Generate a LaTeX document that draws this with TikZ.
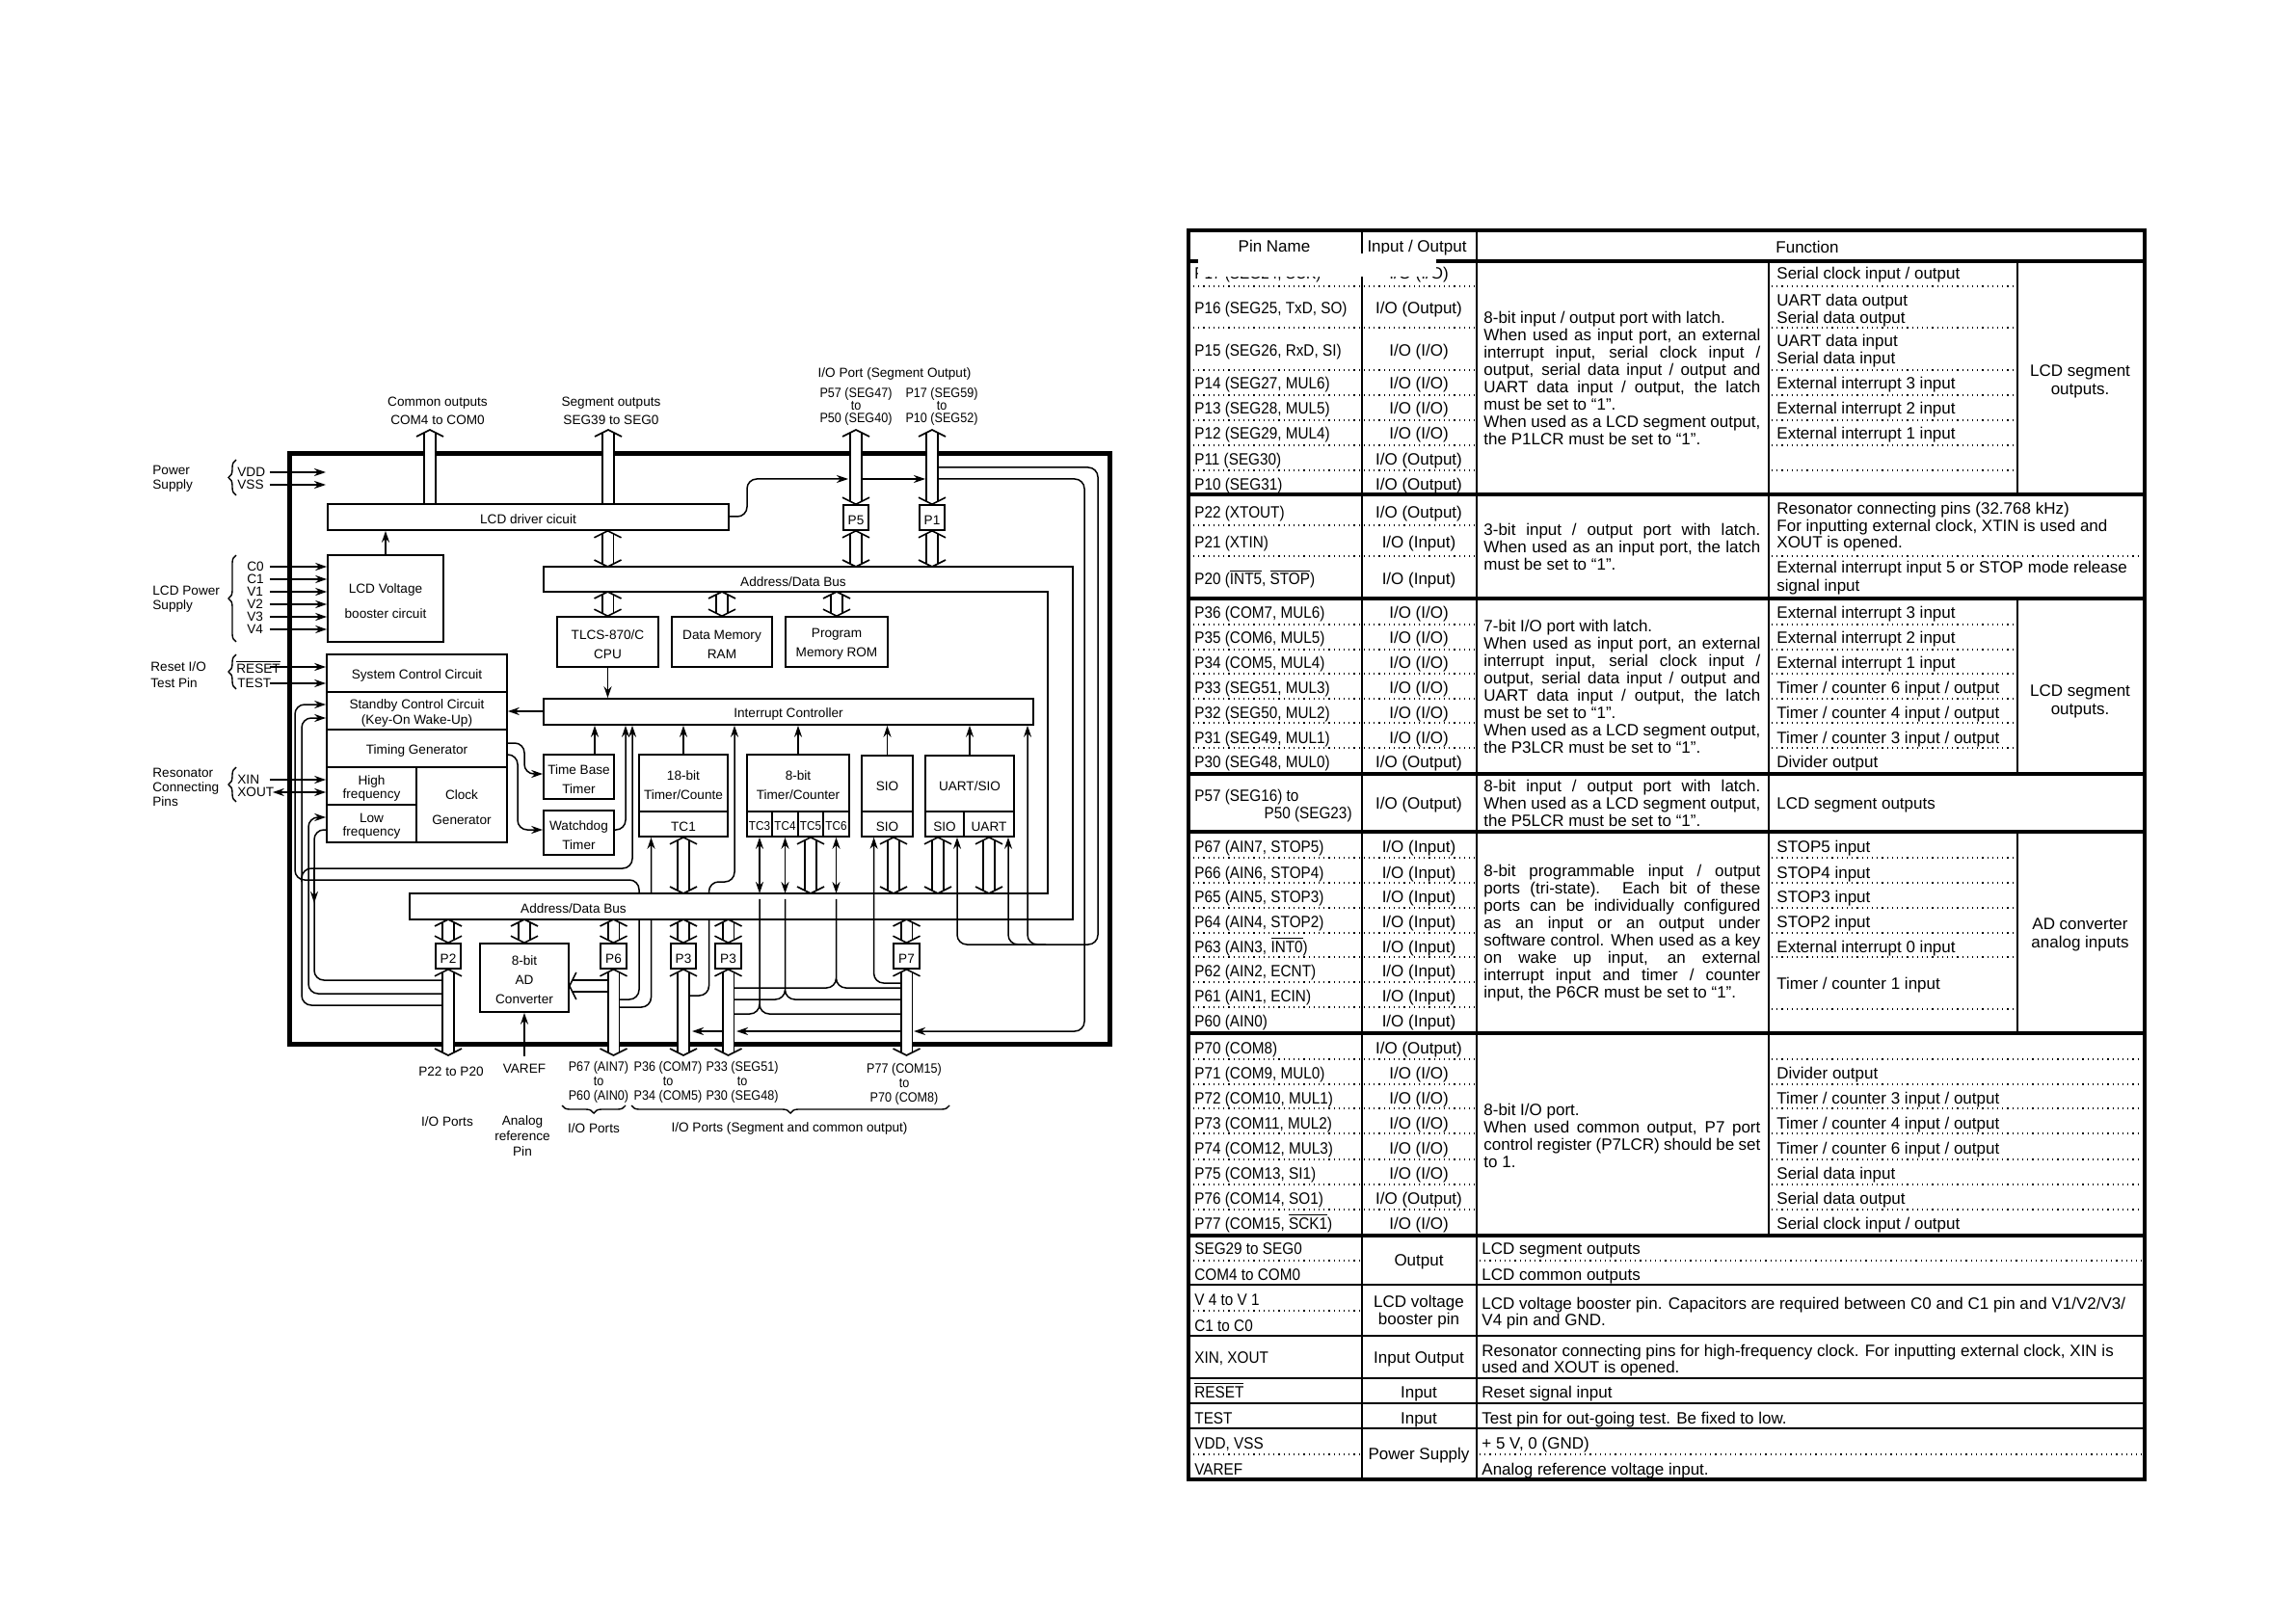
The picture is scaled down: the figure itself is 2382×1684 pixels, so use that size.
\documentclass[tikz,border=0pt]{standalone}
\usepackage{fontspec}
\setmainfont{Liberation Sans}
\newfontfamily\pinfont[FakeStretch=0.9]{Liberation Sans}
\usetikzlibrary{arrows.meta,fit,decorations.pathreplacing}
\newcommand\ovl[1]{$\overline{\mbox{#1}}$}
\newcommand\jl[1]{\makebox[143.5pt][s]{#1}}
\newcommand\tcn[1]{{\pinfont\fontsize{6.5}{7}\selectfont #1}}
\newcommand\blk[4]{\node[box, fit={#2#3}] (#1) {}; \node[align=center, yshift=-1.2pt] (#1t) at (#1) {#4};}
\pgfdeclarearrow{
  name=BusHead,
  setup code={\pgfarrowssettipend{0pt}\pgfarrowssetlineend{-1.6pt}%
    \pgfarrowssetvisualbackend{-3.5pt}\pgfarrowssetbackend{-3.5pt}},
  drawing code={\pgfsetlinewidth{.8pt}\pgfsetmiterjoin%
    \pgfpathmoveto{\pgfqpoint{-3.5pt}{7pt}}\pgfpathlineto{\pgfqpoint{0pt}{0pt}}%
    \pgfpathlineto{\pgfqpoint{-3.5pt}{-7pt}}\pgfusepathqstroke}
}

\begin{document}
\begin{tikzpicture}[x=0.5pt, y=-0.5pt,
    every node/.style={font=\fontsize{6.8}{10}\selectfont, inner sep=0pt},
    box/.style={draw, fill=white, line width=.8pt},
    lbl/.style={align=center, font=\fontsize{6.8}{7.5}\selectfont},
    plbl/.style={align=center, font=\pinfont\fontsize{7}{7.5}\selectfont},
    pinlbl/.style={anchor=west, align=left},
    sig/.style={line width=.75pt, ->, >={Stealth[length=6pt,width=4pt]}},
    wire/.style={sig, rounded corners=5pt},
    bus/.style={line width=.8pt, double=white, double distance=5pt, >={BusHead}},
    brace/.style={decorate, decoration={brace,amplitude=4pt}, line width=.7pt},
    cell/.style={font=\fontsize{8.5}{9}\selectfont, anchor=base west, yshift=-3pt},
    pcell/.style={font=\pinfont\fontsize{8.5}{9}\selectfont, anchor=base west, yshift=-3pt},
    ccell/.style={font=\fontsize{8.5}{9}\selectfont, anchor=base, yshift=-3pt},
    mcell/.style={font=\fontsize{8.5}{9.5}\selectfont, align=center},
    para/.style={font=\fontsize{8.5}{9}\selectfont, anchor=west, align=left},
    heavy/.style={line width=1.8pt},
    thin rule/.style={line width=1pt},
    dot rule/.style={dotted, line width=.6pt}]
  \useasboundingbox (0,0) rectangle (2382,1684);

  % block diagram
  \node[draw, line width=2.5pt, fit={(300,471)(1151,1083)}] (chip) {};
  \blk{lcd}{(340,523)}{(756,550)}{LCD driver cicuit}
  \blk{lvb}{(340,576)}{(460,666)}{LCD Voltage\\[3pt]booster circuit}
  \blk{sys}{(339,679)}{(526,718)}{System Control Circuit}
  \blk{stb}{(339,718)}{(526,757)}{Standby Control Circuit\\[-1.6pt](Key-On Wake-Up)}
  \blk{tg}{(339,757)}{(526,796)}{Timing Generator}
  \blk{hf}{(339,796)}{(432,835)}{High\\[-3pt]frequency}
  \blk{lf}{(339,835)}{(432,874)}{Low\\[-3pt]frequency}
  \blk{clk}{(432,796)}{(526,874)}{Clock\\[3pt]Generator}
  \blk{cpu}{(578,640)}{(683,692)}{TLCS-870/C\\CPU}
  \blk{ram}{(697,640)}{(801,692)}{Data Memory\\RAM}
  \blk{rom}{(815,640)}{(921,692)}{Program\\Memory ROM}
  \blk{ic}{(564,725)}{(1072,752)}{Interrupt Controller}
  \blk{tbt}{(564,783)}{(637,829)}{Time Base\\Timer}
  \blk{wdt}{(564,841)}{(637,887)}{Watchdog\\Timer}
  \blk{t18}{(663,783)}{(755,842)}{18-bit\\Timer/Counte}
  \blk{tc1}{(663,842)}{(755,868)}{TC1}
  \blk{t8}{(775,783)}{(881,842)}{8-bit\\Timer/Counter}
  \blk{tc3}{(775,842)}{(801,868)}{\tcn{TC3}}
  \blk{tc4}{(801,842)}{(828,868)}{\tcn{TC4}}
  \blk{tc5}{(828,842)}{(854,868)}{\tcn{TC5}}
  \blk{tc6}{(854,842)}{(881,868)}{\tcn{TC6}}
  \blk{sio}{(894,784)}{(947,842)}{SIO}
  \blk{siob}{(894,842)}{(947,868)}{SIO}
  \blk{uas}{(960,784)}{(1052,842)}{UART/SIO}
  \blk{us}{(960,842)}{(1000,868)}{SIO}
  \blk{uu}{(1000,842)}{(1052,868)}{UART}
  \blk{p5}{(875,524)}{(901,550)}{P5}
  \blk{p1}{(954,524)}{(980,550)}{P1}
  \blk{p2}{(452,979)}{(478,1005)}{P2}
  \blk{ad}{(498,979)}{(590,1050)}{8-bit\\AD\\Converter}
  \blk{p6}{(623,979)}{(650,1005)}{P6}
  \blk{p3a}{(696,979)}{(722,1005)}{P3}
  \blk{p3b}{(742,979)}{(769,1005)}{P3}
  \blk{p7}{(927,979)}{(954,1005)}{P7}

  \coordinate (tb0) at (564,588);
  \coordinate (tb1) at (564,614);
  \coordinate (lb0) at (425,927);
  \coordinate (lb1) at (425,954);
  \coordinate (comout) at (446,446);
  \coordinate (segout) at (631,446);
  \coordinate (p5out) at (888,446);
  \coordinate (p1out) at (967,446);
  \coordinate (p2out) at (465,1095);
  \coordinate (p6out) at (636.5,1095);
  \coordinate (p3aout) at (709,1095);
  \coordinate (p3bout) at (755.5,1095);
  \coordinate (p7out) at (940.5,1095);
  \coordinate (p5in) at (880,497);
  \coordinate (p1in) at (960,497);
  \coordinate (p7in) at (948,1070);
  \coordinate (p3bin) at (764,1070);
  \coordinate (p3ain) at (718,1070);
  \coordinate (vrefin) at (544,1096);

  % wires that pass behind the bus
  \draw[wire] (p6 |- 0,1037) -| (663,913) -| (306,731) -- (stb.west |- 0,731);
  \draw[wire] (p6 |- 0,1045) -| (tc1.south -| 675.5,0);
  \draw[wire] (p3a |- 0,1033) -| (735.5,915) -| (ic.south -| 762,0);

  \draw[line width=.8pt, fill=white] (tb0) -- (1113,588) -- (1113,954) -- (lb1) -- (lb0)
    -- (1087,927) -- (1087,614) -- (tb1) -- cycle;
  \node (tbus) at (823,604) {Address/Data Bus};
  \node (lbus) at (595,943) {Address/Data Bus};

  % signals
  \draw[sig] (lvb.north) -- (lvb.north |- lcd.south);
  \draw[sig] (cpu.south) -- (ic.north -| cpu);
  \draw[sig] (ic.west |- 0,738) -- (stb.east |- 0,738);
  \draw[sig] (tbt.north -| 617,0) -- (ic.south -| 617,0);
  \draw[sig] (t18.north) -- (ic.south -| t18);
  \draw[sig] (t8.north) -- (ic.south -| t8);
  \draw[sig] (sio.north) -- (ic.south -| sio);
  \draw[sig] (uas.north) -- (ic.south -| uas);
  \draw[wire] (tg.east |- 0,771) -| (544,803) -- (tbt.west |- 0,803);
  \draw[wire] (tg.east |- 0,783) -| (537,861) -- (wdt.west |- 0,861);
  \draw[wire] (wdt.east |- 0,861) -| (ic.south -| 649,0);
  \draw[wire] (p2 |- 0,1043) -| (313,745) -- (stb.west |- 0,745);
  \draw[wire] (313,915) |- (656,901) -- (ic.south -| 656,0);
  \draw[wire] (p2 |- 0,1031) -| (320,848) -- (lf.west |- 0,848);
  \draw[rounded corners=5pt, line width=.75pt] (lf.west |- 0,861) -| (326,1017) -- (p2 |- 0,1017);
  \draw[sig] (326,900) -- (326,937);
  \draw[wire] (lcd.east |- 0,536) -| (775,497) -- (p5in);
  \draw[sig] (p5 |- 0,497) -- (p1in);
  \draw[wire] (p1 |- 0,497) -| (1125,1070) -- (p7in);
  \draw[sig] (p7 |- 0,1070) -- (p3bin);
  \draw[sig] (p3b |- 0,1070) -- (p3ain);
  \draw[wire] (p1 |- 0,485) -| (1139,980) -| (us.south -| 993,0);
  \draw[wire] (1085,980) -| (ic.south -| 1066,0);
  \draw[wire] (1065,980) -| (uu.south -| 1046,0);
  \draw[wire] (p7 |- 0,1020) -| (siob.south -| 906.6,0);
  \draw[sig, <->] (tc3.south) -- (tc3 |- lb0);
  \draw[sig, <->] (tc4.south) -- (tc4 |- lb0);
  \draw[sig, <->] (tc6.south) -- (tc6 |- lb0);
  \draw[rounded corners=5pt, line width=.75pt] (p3b |- 0,1052) -| (tc3 |- lb0) |- (p7 |- 0,1052);
  \draw[rounded corners=5pt, line width=.75pt] (p3b |- 0,1037) -| (tc4 |- lb0) |- (p7 |- 0,1037);
  \draw[rounded corners=5pt, line width=.75pt] (p3b |- 0,1025) -| (tc6 |- lb0) |- (p7 |- 0,1025);
  \draw[sig] (vrefin) -- (ad.south -| vrefin);

  % buses
  \draw[bus, ->] (lcd.north -| comout) -- (comout);
  \draw[bus, ->] (lcd.north -| segout) -- (segout);
  \draw[bus, <->] (cpu |- lcd.south) -- (cpu |- tb0);
  \draw[bus, <->] (cpu |- tb1) -- (cpu.north);
  \draw[bus, <->] (ram |- tb1) -- (ram.north);
  \draw[bus, <->] (rom |- tb1) -- (rom.north);
  \draw[bus, <->] (p5.north) -- (p5out);
  \draw[bus, <->] (p1.north) -- (p1out);
  \draw[bus, <->] (p5 |- tb0) -- (p5.south);
  \draw[bus, <->] (p1 |- tb0) -- (p1.south);
  \draw[bus, <->] (tc1.south) -- (tc1 |- lb0);
  \draw[bus, <->] (tc5.south) -- (tc5 |- lb0);
  \draw[bus, <->] ([xshift=3.25pt]siob.south) -- ([xshift=3.25pt]siob.south |- lb0);
  \draw[bus, <->] ([xshift=-3.5pt]us.south) -- ([xshift=-3.5pt]us.south |- lb0);
  \draw[bus, <->] (uu.south) -- (uu.south |- lb0);
  \draw[bus, <->] (p2 |- lb1) -- (p2.north);
  \draw[bus, <->] (ad |- lb1) -- (ad.north);
  \draw[bus, <->] (p6 |- lb1) -- (p6.north);
  \draw[bus, <->] (p3a |- lb1) -- (p3a.north);
  \draw[bus, <->] (p3b |- lb1) -- (p3b.north);
  \draw[bus, <->] (p7 |- lb1) -- (p7.north);
  \draw[bus, ->] (p6 |- 0,1023) -- (ad.east |- 0,1023);
  \draw[bus, <->] (p2.south) -- (p2out);
  \draw[bus, <->] (p6.south) -- (p6out);
  \draw[bus, <->] (p3a.south) -- (p3aout);
  \draw[bus, <->] (p3b.south) -- (p3bout);
  \draw[bus, <->] (p7.south) -- (p7out);

  % pins on the left
  \foreach \n/\t/\y in {vdd/VDD/490, vss/VSS/503, test/TEST/709}
    \node[pinlbl, text width=16.5pt] (\n) at (246,\y) {\t};
  \foreach \n/\t/\y in {cz/C0/588, co/C1/601, vo/V1/614, vt/V2/627, vh/V3/640, vf/V4/653}
    \node[pinlbl, text width=11.5pt] (\n) at (256,\y) {\t};
  \node[pinlbl, text width=17pt] (rst) at (245,692) {\ovl{RESET}};
  \node[pinlbl, text width=16.5pt] (xin) at (246,809) {XIN};
  \node[pinlbl, text width=18pt] (xout) at (246,822) {XOUT};
  \foreach \n in {vdd,vss} \draw[sig] (\n.east) -- (338,0 |- \n);
  \foreach \n in {cz,co,vo,vt,vh,vf} \draw[sig] (\n.east) -- (lvb.west |- \n);
  \foreach \n in {rst,test} \draw[sig] (\n.east) -- (sys.west |- \n);
  \draw[sig] (xin.east) -- (hf.west |- xin);
  \draw[sig, <->] (xout.east) -- (hf.west |- xout);
  \draw[brace] (245,514) -- (245,477);
  \draw[brace] (245,666) -- (245,576);
  \draw[brace] (245,715) -- (245,679);
  \draw[brace] (245,832) -- (245,796);
  \node[lbl, pinlbl] (pow) at (158,497) {Power\\Supply};
  \node[lbl, pinlbl] (lcp) at (158,622) {LCD Power\\Supply};
  \node[lbl, pinlbl, font=\fontsize{6.8}{8.5}\selectfont] (rio) at (156,700) {Reset I/O\\Test Pin};
  \node[lbl, pinlbl] (res) at (158,817) {Resonator\\Connecting\\Pins};

  % labels above and below
  \node[lbl, font=\fontsize{6.8}{9.5}\selectfont] (cmo) at (454,426) {Common outputs\\COM4 to COM0};
  \node[lbl, font=\fontsize{6.8}{9.5}\selectfont] (sgo) at (634,426) {Segment outputs\\SEG39 to SEG0};
  \node[lbl] (iop) at (928,388) {I/O Port (Segment Output)};
  \node[plbl, font=\pinfont\fontsize{7}{6.5}\selectfont] (l5) at (888,422) {P57 (SEG47)\\to\\P50 (SEG40)};
  \node[plbl, font=\pinfont\fontsize{7}{6.5}\selectfont] (l1) at (977,422) {P17 (SEG59)\\to\\P10 (SEG52)};
  \node[lbl] (l2) at (468,1112) {P22 to P20};
  \node[lbl] (lv) at (544,1109) {VAREF};
  \node[plbl] (l6) at (621,1123) {P67 (AIN7)\\to\\P60 (AIN0)};
  \node[plbl] (l3a) at (693,1123) {P36 (COM7)\\to\\P34 (COM5)};
  \node[plbl] (l3b) at (770,1123) {P33 (SEG51)\\to\\P30 (SEG48)};
  \node[plbl] (l7) at (938,1125) {P77 (COM15)\\to\\P70 (COM8)};
  \node[lbl] (ip) at (464,1164) {I/O Ports};
  \node[lbl, font=\fontsize{6.8}{8}\selectfont] (arp) at (542,1179) {Analog\\reference\\Pin};
  \draw[brace] (649,1147) -- (583,1147);
  \draw[brace] (985,1147) -- (655,1147);
  \node[lbl] (ip6) at (616,1171) {I/O Ports};
  \node[lbl] (ips) at (819,1171) {I/O Ports (Segment and common output)};

  % table rules
  \draw[heavy] (1233,239) rectangle (2225,1535);
  \foreach \y in {271,513,621,803,863,1072,1282} \draw[heavy] (1233,\y) -- (2225,\y);
  \foreach \y in {1333,1386,1430,1456,1482} \draw[thin rule] (1233,\y) -- (2225,\y);
  \foreach \x in {1412.6,1532} \draw[thin rule] (\x,239) -- (\x,1535);
  \draw[thin rule] (1835,271) -- (1835,1282);
  \draw[thin rule] (2093,271) -- (2093,513);
  \draw[thin rule] (2093,621) -- (2093,803);
  \draw[thin rule] (2093,863) -- (2093,1072);
  \foreach \y in {297,340,384,410,436,462,488,545,577,648,674,699,725,750,776,
                  890,916,942,968,993,1019,1045,1099,1125,1150,1176,1203,1229,1255}
    \draw[dot rule] (1238,\y) -- (1530,\y);
  \foreach \y in {1308,1360,1509} \draw[dot rule] (1238,\y) -- (1410,\y);
  \foreach \y in {297,340,384,410,436,462,488,648,674,699,725,750,776,890,916,942,968,993,1047}
    \draw[dot rule] (1838,\y) -- (2091,\y);
  \foreach \y in {577,1099,1125,1150,1176,1203,1229,1255} \draw[dot rule] (1838,\y) -- (2222,\y);
  \foreach \y in {1308,1509} \draw[dot rule] (1535,\y) -- (2222,\y);

  % table text
  \node[ccell] (hpin) at (1322,256) {Pin Name};
  \node[ccell] (hio) at (1470,256) {Input / Output};
  \node[ccell] (hfn) at (1875,257) {Function};
  \foreach \y/\a/\b in {284/{P17 (SEG24, SCK)}/{I/O (I/O)}, 320/{P16 (SEG25, TxD, SO)}/{I/O (Output)},
      364/{P15 (SEG26, RxD, SI)}/{I/O (I/O)}, 398/{P14 (SEG27, MUL6)}/{I/O (I/O)},
      424/{P13 (SEG28, MUL5)}/{I/O (I/O)}, 450/{P12 (SEG29, MUL4)}/{I/O (I/O)},
      477/{P11 (SEG30)}/{I/O (Output)}, 503/{P10 (SEG31)}/{I/O (Output)},
      532/{P22 (XTOUT)}/{I/O (Output)}, 562/{P21 (XTIN)}/{I/O (Input)},
      601/{P20 (\ovl{INT5}, \ovl{STOP})}/{I/O (Input)},
      635/{P36 (COM7, MUL6)}/{I/O (I/O)}, 662/{P35 (COM6, MUL5)}/{I/O (I/O)},
      687/{P34 (COM5, MUL4)}/{I/O (I/O)}, 713/{P33 (SEG51, MUL3)}/{I/O (I/O)},
      739/{P32 (SEG50, MUL2)}/{I/O (I/O)}, 765/{P31 (SEG49, MUL1)}/{I/O (I/O)},
      790/{P30 (SEG48, MUL0)}/{I/O (Output)}, 833/{}/{I/O (Output)},
      878/{P67 (AIN7, STOP5)}/{I/O (Input)}, 905/{P66 (AIN6, STOP4)}/{I/O (Input)},
      930/{P65 (AIN5, STOP3)}/{I/O (Input)}, 956/{P64 (AIN4, STOP2)}/{I/O (Input)},
      982/{P63 (AIN3, \ovl{INT0})}/{I/O (Input)}, 1007/{P62 (AIN2, ECNT)}/{I/O (Input)},
      1033/{P61 (AIN1, ECIN)}/{I/O (Input)}, 1059/{P60 (AIN0)}/{I/O (Input)},
      1087/{P70 (COM8)}/{I/O (Output)}, 1113/{P71 (COM9, MUL0)}/{I/O (I/O)},
      1139/{P72 (COM10, MUL1)}/{I/O (I/O)}, 1165/{P73 (COM11, MUL2)}/{I/O (I/O)},
      1191/{P74 (COM12, MUL3)}/{I/O (I/O)}, 1217/{P75 (COM13, SI1)}/{I/O (I/O)},
      1243/{P76 (COM14, SO1)}/{I/O (Output)}, 1269/{P77 (COM15, \ovl{SCK1})}/{I/O (I/O)},
      1307/{}/{Output}, 1408/{XIN, XOUT}/{Input Output}, 1444/{\ovl{RESET}}/{Input},
      1471/{TEST}/{Input}, 1508/{}/{Power Supply}}{
    \node[pcell] (pin\y) at (1239,\y) {\a};
    \node[ccell] (io\y) at (1472,\y) {\b};
  }
  \foreach \y/\a in {825/{P57 (SEG16) to}, 1295/{SEG29 to SEG0}, 1322/{COM4 to COM0},
      1348/{V 4 to V 1}, 1375/{C1 to C0}, 1497/{VDD, VSS}, 1524/{VAREF}}
    \node[pcell] (pin\y) at (1239,\y) {\a};
  \node[pcell, anchor=base east] (pinb) at (1403,843) {P50 (SEG23)};
  \node[mcell, font=\fontsize{8.5}{9}\selectfont] (io1360) at (1472,1361) {LCD voltage\\booster pin};

  \foreach \y/\a in {284/{Serial clock input / output}, 312/{UART data output}, 330/{Serial data output},
      354/{UART data input}, 372/{Serial data input}, 398/{External interrupt 3 input},
      424/{External interrupt 2 input}, 450/{External interrupt 1 input},
      528/{Resonator connecting pins (32.768 kHz)}, 546/{For inputting external clock, XTIN is used and},
      563/{XOUT is opened.}, 589/{External interrupt input 5 or STOP mode release}, 607/{signal input},
      635/{External interrupt 3 input}, 662/{External interrupt 2 input}, 687/{External interrupt 1 input},
      713/{Timer / counter 6 input / output}, 739/{Timer / counter 4 input / output},
      765/{Timer / counter 3 input / output}, 790/{Divider output}, 833/{LCD segment outputs},
      878/{STOP5 input}, 905/{STOP4 input}, 930/{STOP3 input}, 956/{STOP2 input},
      982/{External interrupt 0 input}, 1020/{Timer / counter 1 input},
      1113/{Divider output}, 1139/{Timer / counter 3 input / output}, 1165/{Timer / counter 4 input / output},
      1191/{Timer / counter 6 input / output}, 1217/{Serial data input}, 1243/{Serial data output},
      1269/{Serial clock input / output}}
    \node[cell] (fn\y) at (1843,\y) {\a};
  \foreach \y/\a in {1295/{LCD segment outputs}, 1322/{LCD common outputs},
      1352/{LCD voltage booster pin.  Capacitors are required between C0 and C1 pin and V1/V2/V3/},
      1369/{V4 pin and GND.},
      1401/{Resonator connecting pins for high-frequency clock.  For inputting external clock, XIN is},
      1418/{used and XOUT is opened.}, 1444/{Reset signal input}, 1471/{Test pin for out-going test.  Be fixed to low.},
      1497/{+ 5 V, 0 (GND)}, 1524/{Analog reference voltage input.}}
    \node[cell] (fx\y) at (1537,\y) {\a};
  \node[mcell] (seg1) at (2158,396) {LCD segment\\outputs.};
  \node[mcell] (seg3) at (2158,728) {LCD segment\\outputs.};
  \node[mcell] (adc) at (2158,970) {AD converter\\analog inputs};

  \node[para] (d1) at (1539,392) {8-bit input / output port with latch.\\
    \jl{When used as input port, an external}\\ \jl{interrupt input, serial clock input /}\\
    \jl{output, serial data input / output and}\\ \jl{UART data input / output, the latch}\\
    must be set to “1”.\\ \jl{When used as a LCD segment output,}\\ the P1LCR must be set to “1”.};
  \node[para] (d2) at (1539,567) {\jl{3-bit input / output port with latch.}\\
    \jl{When used as an input port, the latch}\\ must be set to “1”.};
  \node[para] (d3) at (1539,712) {7-bit I/O port with latch.\\
    \jl{When used as input port, an external}\\ \jl{interrupt input, serial clock input /}\\
    \jl{output, serial data input / output and}\\ \jl{UART data input / output, the latch}\\
    must be set to “1”.\\ \jl{When used as a LCD segment output,}\\ the P3LCR must be set to “1”.};
  \node[para] (d4) at (1539,833) {\jl{8-bit input / output port with latch.}\\
    \jl{When used as a LCD segment output,}\\ the P5LCR must be set to “1”.};
  \node[para] (d5) at (1539,968) {\jl{8-bit programmable input / output}\\
    \jl{ports (tri-state).  Each bit of these}\\ \jl{ports can be individually configured}\\
    \jl{as an input or an output under}\\ \jl{software control.  When used as a key}\\
    \jl{on wake up input, an external}\\ \jl{interrupt input and timer / counter}\\
    input, the P6CR must be set to “1”.};
  \node[para] (d6) at (1539,1178) {8-bit I/O port.\\ \jl{When used common output, P7 port}\\
    \jl{control register (P7LCR) should be set}\\ to 1.};

  % patch over the first row
  \fill[white] (1243,263) rectangle (1490,287);
\end{tikzpicture}
\end{document}
